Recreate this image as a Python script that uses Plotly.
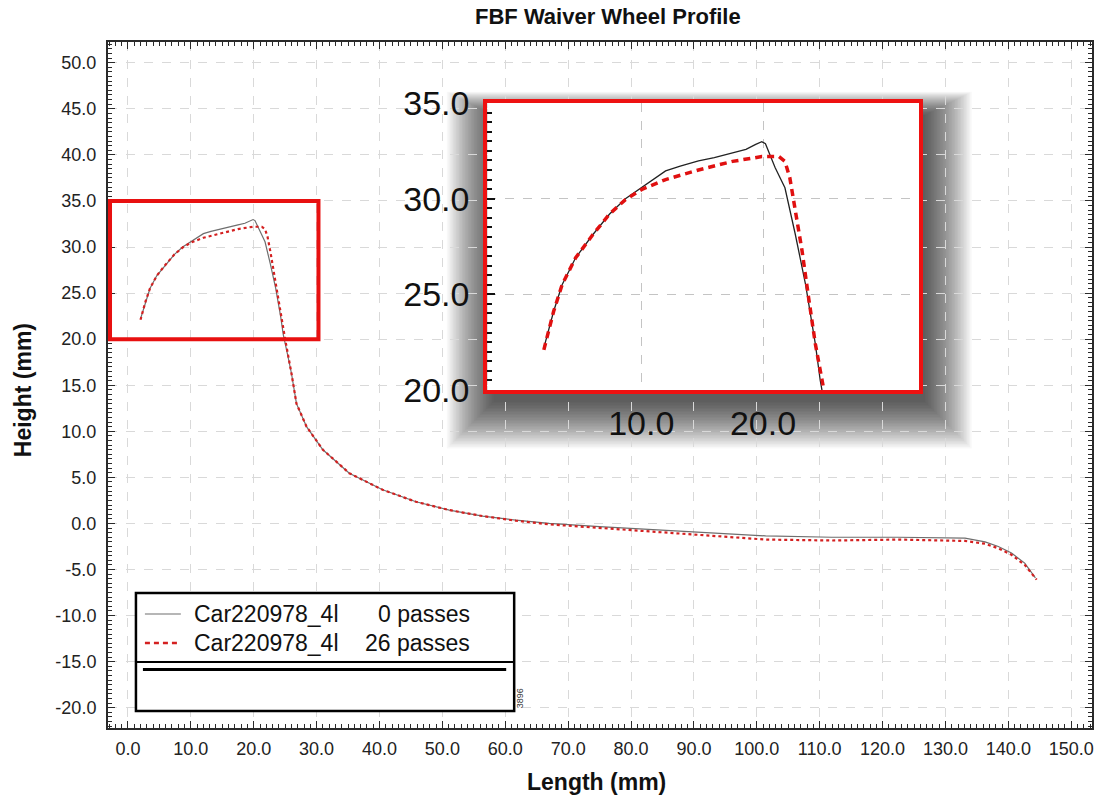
import plotly.graph_objects as go

# ---------------- data ----------------
x_0p = [2.0, 2.8, 3.5, 4.6, 6.0, 7.4, 8.7, 10.1, 12.0, 13.2, 14.7, 16.0, 17.5, 18.6,
        19.4, 19.9, 20.2, 21.0, 21.8, 22.65, 23.5, 24.3, 24.7, 25.3, 26.0, 26.8,
        28.4, 31.0, 35.2, 40.5, 45.8, 51.1, 56.4, 61.7, 67.0, 75.0, 80.0, 90.8,
        101.4, 111.9, 122.5, 133.1, 136.3, 138.4, 140.5, 142.6, 144.3]
y_0p = [22.2, 24.1, 25.5, 26.9, 28.1, 29.2, 30.0, 30.6, 31.45, 31.7, 31.97, 32.15, 32.4, 32.58,
        32.84, 32.98, 32.87, 31.62, 30.57, 28.14, 25.5, 22.4, 20.5, 18.6, 16.3, 13.0,
        10.5, 8.0, 5.45, 3.65, 2.35, 1.45, 0.8, 0.35, 0.0, -0.35, -0.55, -0.9,
        -1.35, -1.5, -1.5, -1.6, -2.0, -2.5, -3.2, -4.3, -5.9]

x_26p = [2.0, 2.8, 3.5, 4.6, 6.0, 7.4, 8.7, 10.1, 12.0, 14.7, 17.5, 19.9, 21.3, 21.8,
         22.2, 22.65, 23.2, 23.75, 24.3, 25.0, 26.0, 26.8, 28.4, 31.0, 35.2, 40.5,
         45.8, 51.1, 56.4, 61.7, 67.0, 75.0, 80.0, 90.8, 101.4, 111.9, 122.5, 133.1,
         136.3, 138.4, 140.5, 142.6, 144.5]
y_26p = [22.1, 24.1, 25.5, 26.9, 28.1, 29.2, 29.95, 30.5, 31.0, 31.5, 31.95, 32.2, 32.2, 31.95,
         31.1, 29.5, 27.3, 24.8, 22.4, 20.0, 16.3, 13.0, 10.5, 8.0, 5.45, 3.65,
         2.35, 1.45, 0.8, 0.3, -0.1, -0.5, -0.75, -1.25, -1.75, -1.85, -1.75, -1.9,
         -2.2, -2.7, -3.4, -4.5, -6.1]

series_label = ["Car220978_4l", "Car220978_4l"]
series_passes = ["0 passes", "26 passes"]

main_xticks = list(range(0, 151, 10))
main_yticks = list(range(-20, 51, 5))
inset_xticks = [10, 20]
inset_yticks = [20, 25, 30, 35]

title_text = "FBF Waiver Wheel Profile"
x_title = "Length (mm)"
y_title = "Height (mm)"
stamp = "3896"

# ---------------- layout helpers ----------------
W, H = 1096, 797
L, R, T, B = 108, 1094, 42, 728


def px(xp):
    return (xp - L) / (R - L)


def py(yp):
    return (B - yp) / (B - T)


def fmt(v):
    return f"{v:.1f}"


FONT = "Liberation Sans, Arial, sans-serif"
BLACK_MAIN = dict(color="#6e6e6e", width=1.2)
RED_MAIN = dict(color="#d42020", width=2.2, dash="dot")

fig = go.Figure()

# main plot traces
fig.add_trace(go.Scatter(x=x_0p, y=y_0p, mode="lines", name=series_label[0] + " " + series_passes[0],
                         line=BLACK_MAIN, xaxis="x", yaxis="y", showlegend=False))
fig.add_trace(go.Scatter(x=x_26p, y=y_26p, mode="lines", name=series_label[1] + " " + series_passes[1],
                         line=RED_MAIN, xaxis="x", yaxis="y", showlegend=False))
# inset traces
fig.add_trace(go.Scatter(x=x_0p, y=y_0p, mode="lines", showlegend=False,
                         line=dict(color="#222222", width=1.3), xaxis="x2", yaxis="y2"))
fig.add_trace(go.Scatter(x=x_26p, y=y_26p, mode="lines", showlegend=False,
                         line=dict(color="#e01010", width=3.5, dash="7px,5px"), xaxis="x2", yaxis="y2"))

axis_common = dict(showline=True, linecolor="#2a2a2a", linewidth=2, mirror="ticks",
                   ticks="inside", ticklen=7, tickwidth=1.3, tickcolor="#2a2a2a",
                   showgrid=True, gridcolor="#d9d9d9", griddash="dash", gridwidth=1,
                   zeroline=False,
                   tickfont=dict(family=FONT, size=18, color="#222"))

shapes = []
# drop shadow of the inset (soft, layered)
ix0, ix1, iy0, iy1 = 488, 921, 103, 390
dx, dy = 6, 12
n_layers = 32
for i in range(n_layers):
    e = 1.5 * i
    shapes.append(dict(type="rect", xref="paper", yref="paper", layer="below",
                       x0=px(ix0 + dx - e), x1=px(ix1 + dx + e),
                       y0=py(iy1 + dy + e), y1=py(iy0 + dy - e * 0.5),
                       line=dict(width=0), fillcolor="rgba(0,0,0,0.026)"))
# red zoom box on the main plot
shapes.append(dict(type="rect", xref="x", yref="y", x0=-2.85, x1=30.3, y0=20, y1=35,
                   line=dict(color="#e81010", width=4)))
# legend frame
shapes.append(dict(type="rect", xref="paper", yref="paper",
                   x0=px(136), x1=px(515), y0=py(711), y1=py(593),
                   line=dict(color="black", width=2.5), fillcolor="white"))
shapes.append(dict(type="line", xref="paper", yref="paper",
                   x0=px(136), x1=px(515), y0=py(662), y1=py(662),
                   line=dict(color="black", width=2)))
shapes.append(dict(type="line", xref="paper", yref="paper",
                   x0=px(143), x1=px(507), y0=py(669.5), y1=py(669.5),
                   line=dict(color="black", width=3)))
# legend samples
shapes.append(dict(type="line", xref="paper", yref="paper",
                   x0=px(145), x1=px(181), y0=py(614), y1=py(614),
                   line=dict(color="#6e6e6e", width=1.2)))
shapes.append(dict(type="line", xref="paper", yref="paper",
                   x0=px(145), x1=px(181), y0=py(643), y1=py(643),
                   line=dict(color="#d42020", width=2.5, dash="5px,4px")))

annotations = [
    dict(text="<b>" + title_text + "</b>", xref="paper", yref="paper", x=px(609), y=py(16),
         showarrow=False, xanchor="center", yanchor="middle",
         font=dict(family=FONT, size=22, color="#111")),
    dict(text="<b>" + x_title + "</b>", xref="paper", yref="paper", x=px(597), y=py(782),
         showarrow=False, xanchor="center", yanchor="middle",
         font=dict(family=FONT, size=23, color="#111")),
    dict(text="<b>" + y_title + "</b>", xref="paper", yref="paper", x=px(23), y=py(390),
         showarrow=False, xanchor="center", yanchor="middle", textangle=-90,
         font=dict(family=FONT, size=23, color="#111")),
    dict(text=stamp, xref="paper", yref="paper", x=px(521), y=py(698),
         showarrow=False, xanchor="center", yanchor="middle", textangle=-90,
         font=dict(family=FONT, size=9, color="#333")),
]
for i, yy in enumerate([614, 643]):
    annotations.append(dict(text=series_label[i], xref="paper", yref="paper",
                            x=px(192), y=py(yy), showarrow=False, xanchor="left", yanchor="middle",
                            font=dict(family=FONT, size=23, color="#111")))
    annotations.append(dict(text=series_passes[i], xref="paper", yref="paper",
                            x=px(473), y=py(yy), showarrow=False, xanchor="right", yanchor="middle",
                            font=dict(family=FONT, size=23, color="#111")))

fig.update_layout(
    width=W, height=H, autosize=False,
    margin=dict(l=L, r=W - R, t=T, b=H - B),
    paper_bgcolor="white", plot_bgcolor="white",
    font=dict(family=FONT, color="#222"),
    showlegend=False,
    xaxis=dict(domain=[0, 1], range=[-3.17, 153.3], tickmode="array", tickvals=main_xticks,
               ticktext=[fmt(v) for v in main_xticks],
               minor=dict(ticks="inside", dtick=1, tick0=0, ticklen=4, tickcolor="#2a2a2a", showgrid=False),
               ticklabelstandoff=3, **axis_common),
    yaxis=dict(domain=[0, 1], range=[-22.2, 52.25], tickmode="array", tickvals=main_yticks,
               ticktext=[fmt(v) for v in main_yticks],
               minor=dict(ticks="inside", dtick=0.5, tick0=0, ticklen=4, tickcolor="#2a2a2a", showgrid=False),
               ticklabelstandoff=6, **axis_common),
    xaxis2=dict(domain=[px(ix0), px(ix1)], anchor="y2", range=[-2.65, 32.84],
                tickmode="array", tickvals=inset_xticks, ticktext=[fmt(v) for v in inset_xticks],
                ticks="",
                showline=True, linecolor="#ee1111", linewidth=4, mirror=True,
                showgrid=True, gridcolor="#c4c4c4", griddash="dash", zeroline=False,
                ticklabelstandoff=0,
                tickfont=dict(family=FONT, size=34, color="#111")),
    yaxis2=dict(domain=[py(iy1), py(iy0)], anchor="x2", range=[20, 35],
                tickmode="array", tickvals=inset_yticks, ticktext=[fmt(v) for v in inset_yticks],
                ticks="inside", ticklen=8, tickwidth=2, tickcolor="#111",
                minor=dict(ticks="inside", dtick=0.5, tick0=20, ticklen=5, tickwidth=2,
                           tickcolor="#111", showgrid=False),
                showline=True, linecolor="#ee1111", linewidth=4, mirror=True,
                showgrid=True, gridcolor="#c4c4c4", griddash="dash", zeroline=False,
                ticklabelstandoff=7,
                tickfont=dict(family=FONT, size=34, color="#111")),
    shapes=shapes,
    annotations=annotations,
)

fig.write_html("out.html")
